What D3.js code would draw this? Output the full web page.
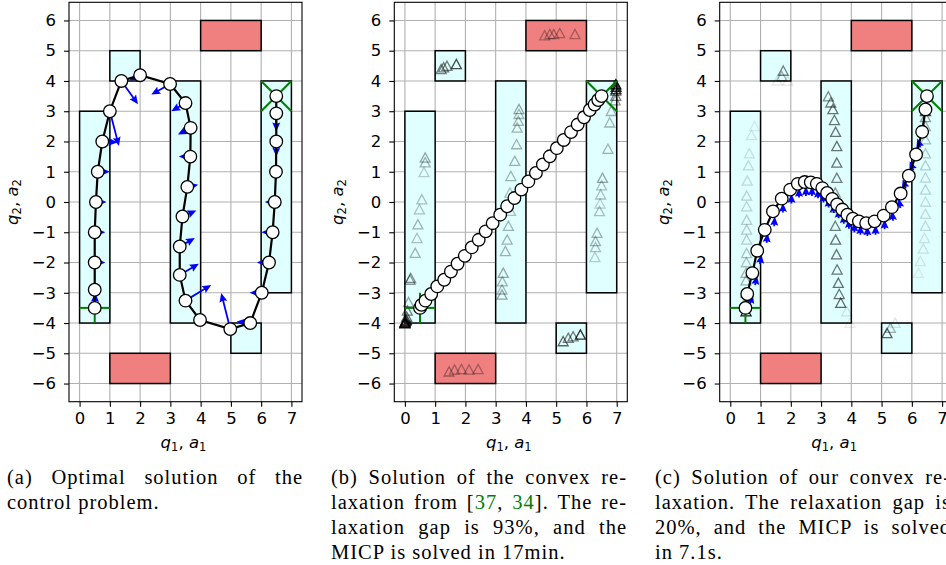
<!DOCTYPE html>
<html>
<head>
<meta charset="utf-8">
<script src="https://cdn.jsdelivr.net/npm/d3@7"></script>
<style>
body { margin: 0; background: #fff; overflow: hidden; }
</style>
</head>
<body>
<svg id="chart" width="946" height="565"></svg>
<script>
// safe regions and obstacles (x0, x1, y0, y1)
const safeBoxes = [[0, 1, -4, 3], [1, 2, 4, 5], [3, 4, -4, 4], [5, 6, -5, -4], [6, 7, -3, 4]];
const obstacles = [[4, 6, 5, 6], [1, 3, -6, -5]];
const startPt = [0.5, -3.5];
const goalPt = [6.5, 3.5];
const xTicks = [0, 1, 2, 3, 4, 5, 6, 7];
const yTicks = [-6, -5, -4, -3, -2, -1, 0, 1, 2, 3, 4, 5, 6];

// (a) optimal solution
const aX = [0.5, 0.5, 0.5, 0.5, 0.54, 0.6, 0.75, 1.0, 1.38, 2.0, 2.99, 3.5, 3.67, 3.66, 3.56, 3.4, 3.31, 3.31, 3.5, 3.98, 4.98, 5.64, 6.02, 6.26, 6.38, 6.45, 6.49, 6.5, 6.5, 6.5];
const aY = [-3.5, -2.9, -2.0, -1.0, 0, 1.0, 2.0, 3.0, 4.0, 4.19, 3.9, 3.27, 2.45, 1.5, 0.5, -0.48, -1.47, -2.41, -3.26, -3.9, -4.2, -4.0, -3.0, -2.0, -1.0, 0, 1.0, 2.0, 2.93, 3.5];
const aU = [0.02, 0, 0.35, 0.35, 0.35, 0.4, 0.5, 0.3, 0.55, -0.35, -0.62, -0.47, -0.42, -0.38, 0.36, 0.46, 0.5, 0.63, 0.85, 0, -0.3, -0.45, -0.4, -0.4, -0.37, -0.33, 0, 0, 0, 0];
const aV = [0.5, 0, 0, 0, 0, 0, -0.03, -1.15, -0.77, -0.17, -0.35, -0.27, -0.22, 0, 0.07, 0.2, 0.28, 0.37, 0.52, 0, 1.19, 0.05, 0, 0, 0, 0, -0.3, -0.5, -0.6, 0];

// (b) convex relaxation from [37, 34]
const bX = [0.5, 0.55, 0.68, 0.87, 1.07, 1.3, 1.52, 1.74, 1.98, 2.21, 2.44, 2.67, 2.9, 3.15, 3.38, 3.62, 3.85, 4.08, 4.33, 4.56, 4.79, 5.02, 5.25, 5.49, 5.71, 5.92, 6.11, 6.27, 6.39, 6.5];
const bY = [-3.5, -3.4, -3.26, -3.04, -2.79, -2.57, -2.3, -2.04, -1.78, -1.5, -1.25, -0.97, -0.7, -0.42, -0.14, 0.13, 0.41, 0.68, 0.96, 1.24, 1.51, 1.78, 2.05, 2.31, 2.56, 2.8, 3.04, 3.22, 3.37, 3.5];
const bTriX = [0.67, 0.67, 0.63, 0.56, 0.48, 0.43, 0.4, 0.34, 0.19, 0.17, 0.12, 0.08, 0.06, 0.05, 0.03, 0.01, 0.0, 0.0,
  6.97, 6.98, 6.98, 6.97, 6.97, 6.95, 6.82, 6.77, 6.71, 6.53, 6.5, 6.47, 6.45, 6.43, 6.35, 6.3, 6.3, 6.28,
  3.77, 3.77, 3.75, 3.71, 3.69, 3.63, 3.5, 3.47, 3.49, 3.42, 3.38, 3.32, 3.25, 3.22, 3.21, 3.21,
  1.2, 1.28, 1.39, 1.7, 4.62, 4.79, 4.92, 5.12, 5.62, 5.23, 5.4, 5.56, 5.8, 1.46, 1.64, 1.87, 2.12, 2.42];
const bTriY = [1.46, 1.3, 0.98, 0.08, -0.25, -0.75, -1.2, -1.69, -2.52, -2.58, -3.32, -3.6, -3.8, -3.9, -3.94, -3.97, -4.0, -4.02,
  3.88, 3.8, 3.72, 3.67, 3.5, 3.35, 3.0, 2.62, 1.75, 0.79, 0.54, 0.24, -0.06, -0.31, -1.03, -1.3, -1.5, -1.83,
  3.06, 2.9, 2.67, 2.45, 1.9, 1.35, 0.85, 0.3, -0.3, -0.8, -1.25, -1.63, -2.35, -2.63, -2.9, -3.07,
  4.38, 4.44, 4.49, 4.55, 5.5, 5.54, 5.54, 5.57, 5.54, -4.61, -4.5, -4.45, -4.39, -5.61, -5.55, -5.53, -5.55, -5.53];
const bTriA = [0.35, 0.3, 0.2, 0.25, 0.25, 0.3, 0.25, 0.3, 0.45, 0.4, 0.35, 0.5, 0.6, 0.7, 0.8, 0.85, 0.9, 0.95,
  0.95, 0.8, 0.7, 0.6, 0.5, 0.4, 0.3, 0.3, 0.3, 0.35, 0.25, 0.25, 0.2, 0.25, 0.3, 0.3, 0.25, 0.2,
  0.35, 0.3, 0.3, 0.3, 0.3, 0.3, 0.3, 0.25, 0.25, 0.3, 0.3, 0.3, 0.35, 0.3, 0.3, 0.35,
  0.5, 0.5, 0.5, 0.7, 0.3, 0.3, 0.3, 0.3, 0.3, 0.6, 0.5, 0.5, 0.8, 0.35, 0.3, 0.3, 0.3, 0.3];

// (c) our convex relaxation
const cX = [0.5, 0.56, 0.73, 0.89, 1.14, 1.41, 1.7, 1.98, 2.23, 2.46, 2.66, 2.86, 3.04, 3.2, 3.37, 3.53, 3.7, 3.87, 4.05, 4.25, 4.49, 4.77, 5.07, 5.34, 5.63, 5.9, 6.14, 6.34, 6.45, 6.5];
const cY = [-3.5, -3.04, -2.35, -1.61, -0.92, -0.31, 0.11, 0.41, 0.6, 0.66, 0.65, 0.6, 0.46, 0.3, 0.1, -0.08, -0.25, -0.42, -0.55, -0.64, -0.7, -0.64, -0.45, -0.17, 0.28, 0.87, 1.57, 2.32, 3.06, 3.5];
const cQX = [0.66, 0.82, 0.98, 1.2, 1.45, 1.74, 2.02, 2.27, 2.5, 2.7, 2.9, 3.08, 3.25, 3.42, 3.58, 3.75, 3.92, 4.1, 4.3, 4.53, 4.8, 5.1, 5.38, 5.62, 5.8, 6.05, 6.28];
const cQY = [-3.35, -2.75, -2.05, -1.35, -0.8, -0.35, -0.05, 0.15, 0.2, 0.2, 0.12, -0.02, -0.18, -0.36, -0.54, -0.72, -0.88, -1.0, -1.08, -1.12, -1.08, -0.9, -0.62, -0.2, 0.45, 1.05, 1.8];
const cQU = [0.08, 0.06, 0.05, 0.03, 0.02, 0, 0, 0, 0, 0, 0, 0, 0, 0, 0, 0, 0, 0, 0, 0, 0, 0, -0.03, -0.06, -0.1, -0.12, -0.1];
const cQV = [0.3, 0.32, 0.32, 0.32, 0.32, 0.32, 0.32, 0.32, 0.32, 0.32, 0.32, 0.32, 0.32, 0.32, 0.32, 0.32, 0.32, 0.32, 0.32, 0.32, 0.32, 0.32, 0.32, 0.32, 0.3, 0.3, 0.3];
const cTriX = [3.24, 3.32, 3.39, 3.44, 3.48, 3.52, 3.52, 3.52, 3.47, 3.47, 3.47, 3.48, 3.51, 3.53, 3.57, 3.6, 3.65, 3.85, 3.96,
  0.52, 0.52, 0.52, 0.52, 0.52, 0.53, 0.54, 0.54, 0.54, 0.54, 0.54, 0.54, 0.56, 0.6, 0.63, 0.7, 0.8,
  6.45, 6.45, 6.45, 6.45, 6.45, 6.45, 6.45, 6.45, 6.45, 6.45, 6.45, 6.42, 6.38, 6.28, 6.22,
  1.75, 1.7, 1.55, 1.9, 5.18, 5.29, 5.45];
const cTriY = [3.48, 3.28, 3.06, 2.7, 2.31, 1.84, 1.29, 0.79, 0.3, -0.2, -0.8, -1.25, -1.74, -2.24, -2.68, -3.05, -3.34, -3.62, -4.0,
  -3.62, -3.29, -3.0, -2.6, -2.35, -2.0, -1.7, -1.25, -0.92, -0.6, -0.15, 0.2, 0.7, 1.2, 1.6, 2.2, 2.5,
  3.0, 2.8, 2.5, 2.06, 1.6, 1.2, 0.8, 0.4, 0.0, -0.4, -0.8, -1.2, -1.55, -1.96, -2.35,
  4.33, 4.15, 4.0, 4.0, -4.34, -4.17, -4.0];
const cTriA = [0.45, 0.5, 0.55, 0.55, 0.55, 0.55, 0.55, 0.5, 0.4, 0.35, 0.5, 0.55, 0.55, 0.55, 0.55, 0.55, 0.6, 0.12, 0.08,
  0.9, 0.35, 0.4, 0.3, 0.3, 0.25, 0.25, 0.2, 0.2, 0.2, 0.18, 0.18, 0.15, 0.15, 0.12, 0.1, 0.08,
  0.7, 0.4, 0.3, 0.25, 0.22, 0.2, 0.18, 0.18, 0.15, 0.15, 0.15, 0.12, 0.12, 0.1, 0.08,
  0.5, 0.3, 0.1, 0.1, 0.6, 0.3, 0.12];

const captions = [
  [["(a) Optimal solution of the"], ["control problem."]],
  [["(b) Solution of the convex re-"], ["laxation from ", {t: "[", c: "#000"}, {t: "37", c: "#008000"}, ", ", {t: "34", c: "#008000"}, "]. The re-"],
   ["laxation gap is 93%, and the"], ["MICP is solved in 17min."]],
  [["(c) Solution of our convex re-"], ["laxation. The relaxation gap is"], ["20%, and the MICP is solved"], ["in 7.1s."]]
];

const svg = d3.select("#chart");
const W = 233, H = 399.4;
const panelLeft = [69, 394.3, 719.7];
const panelTop = 2.3;
const x = d3.scaleLinear().domain([-0.35, 7.35]).range([0, W]);
const y = d3.scaleLinear().domain([-6.6, 6.6]).range([H, 0]);
const tickFont = "DejaVu Sans, sans-serif";

function arrowPts(x0, y0, x1, y1) {
  const dx = x1 - x0, dy = y1 - y0, L = Math.hypot(dx, dy);
  if (L < 0.5) return null;
  const ux = dx / L, uy = dy / L, nx = -uy, ny = ux;
  let hl = 9, hw = 4, sw = 0.9;
  if (L < hl) { const s = L / hl; hl = L; hw *= Math.max(s, 0.85); sw *= s; }
  const bx = x1 - ux * hl, by = y1 - uy * hl;
  const ax = x1 - ux * hl * 0.88, ay = y1 - uy * hl * 0.88;
  return [[x0 + nx * sw, y0 + ny * sw], [ax + nx * sw, ay + ny * sw], [bx + nx * hw, by + ny * hw], [x1, y1],
    [bx - nx * hw, by - ny * hw], [ax - nx * sw, ay - ny * sw], [x0 - nx * sw, y0 - ny * sw]];
}

function triPath(px, py) {
  const s = 5;
  return `M${px},${py - s}L${px + s},${py + s * 0.85}L${px - s},${py + s * 0.85}Z`;
}

function drawPanel(i, pts, arrows, tris) {
  const g = svg.append("g").attr("transform", `translate(${panelLeft[i]},${panelTop})`);

  // grid
  g.append("g").selectAll("line").data(xTicks).join("line")
    .attr("x1", d => x(d)).attr("x2", d => x(d)).attr("y1", 0).attr("y2", H)
    .attr("stroke", "#b0b0b0").attr("stroke-width", 1.1);
  g.append("g").selectAll("line").data(yTicks).join("line")
    .attr("y1", d => y(d)).attr("y2", d => y(d)).attr("x1", 0).attr("x2", W)
    .attr("stroke", "#b0b0b0").attr("stroke-width", 1.1);

  // regions
  g.append("g").selectAll("rect").data(safeBoxes).join("rect")
    .attr("x", d => x(d[0])).attr("y", d => y(d[3]))
    .attr("width", d => x(d[1]) - x(d[0])).attr("height", d => y(d[2]) - y(d[3]))
    .attr("fill", "#e0ffff").attr("stroke", "#000").attr("stroke-width", 1.5);
  g.append("g").selectAll("rect").data(obstacles).join("rect")
    .attr("x", d => x(d[0])).attr("y", d => y(d[3]))
    .attr("width", d => x(d[1]) - x(d[0])).attr("height", d => y(d[2]) - y(d[3]))
    .attr("fill", "#f08080").attr("stroke", "#000").attr("stroke-width", 1.5);

  // triangles
  if (tris) {
    g.append("g").selectAll("path").data(tris).join("path")
      .attr("d", d => triPath(x(d[0]), y(d[1])))
      .attr("fill", "none").attr("stroke", "#000").attr("stroke-width", 1.3)
      .attr("stroke-opacity", d => d[2]);
  }

  // start and goal
  const gg = g.append("g").attr("stroke", "#008000").attr("stroke-width", 2);
  gg.append("line").attr("x1", x(startPt[0] - 0.5)).attr("x2", x(startPt[0] + 0.5)).attr("y1", y(startPt[1])).attr("y2", y(startPt[1]));
  gg.append("line").attr("x1", x(startPt[0])).attr("x2", x(startPt[0])).attr("y1", y(startPt[1] - 0.5)).attr("y2", y(startPt[1] + 0.5));
  gg.append("line").attr("x1", x(goalPt[0] - 0.5)).attr("x2", x(goalPt[0] + 0.5)).attr("y1", y(goalPt[1] - 0.5)).attr("y2", y(goalPt[1] + 0.5));
  gg.append("line").attr("x1", x(goalPt[0] - 0.5)).attr("x2", x(goalPt[0] + 0.5)).attr("y1", y(goalPt[1] + 0.5)).attr("y2", y(goalPt[1] - 0.5));

  // acceleration arrows
  if (arrows) {
    g.append("g").selectAll("polygon")
      .data(arrows.map(d => arrowPts(x(d[0]), y(d[1]), x(d[0] + d[2]), y(d[1] + d[3]))).filter(d => d))
      .join("polygon")
      .attr("points", d => d.map(p => p.join(",")).join(" "))
      .attr("fill", "#0000ff");
  }

  // trajectory
  g.append("path").datum(pts)
    .attr("d", d3.line().x(d => x(d[0])).y(d => y(d[1])))
    .attr("fill", "none").attr("stroke", "#000").attr("stroke-width", 2.2);
  g.append("g").selectAll("circle").data(pts).join("circle")
    .attr("cx", d => x(d[0])).attr("cy", d => y(d[1])).attr("r", 6.3)
    .attr("fill", "#fff").attr("stroke", "#000").attr("stroke-width", 1.3);

  // frame
  g.append("rect").attr("width", W).attr("height", H)
    .attr("fill", "none").attr("stroke", "#000").attr("stroke-width", 1.1);

  // axes
  const xa = g.append("g").attr("transform", `translate(0,${H})`)
    .call(d3.axisBottom(x).tickValues(xTicks).tickSize(5).tickPadding(6).tickFormat(d3.format("d")));
  const ya = g.append("g")
    .call(d3.axisLeft(y).tickValues(yTicks).tickSize(5).tickPadding(8).tickFormat(d => d < 0 ? "\u2212" + Math.abs(d) : d));
  [xa, ya].forEach(a => {
    a.select(".domain").remove();
    a.selectAll("line").attr("stroke", "#000").attr("stroke-width", 1.1);
    a.selectAll("text").attr("font-family", tickFont).attr("font-size", 16.5).attr("fill", "#000");
  });

  // axis labels
  const xl = g.append("text").attr("x", W / 2 - 2).attr("y", 446)
    .attr("text-anchor", "middle").attr("font-family", tickFont).attr("font-size", 16.5);
  axisLabel(xl, "1");
  const yl = g.append("text").attr("transform", `translate(${-51},${H / 2}) rotate(-90)`)
    .attr("text-anchor", "middle").attr("font-family", tickFont).attr("font-size", 16.5);
  axisLabel(yl, "2");
}

function axisLabel(t, k) {
  t.append("tspan").attr("font-style", "italic").text("q");
  t.append("tspan").attr("font-size", 11.5).attr("dy", 3).text(k);
  t.append("tspan").attr("dy", -3).text(", ");
  t.append("tspan").attr("font-style", "italic").text("a");
  t.append("tspan").attr("font-size", 11.5).attr("dy", 3).text(k);
}

const zip2 = (X, Y) => X.map((v, i) => [v, Y[i]]);
drawPanel(0, zip2(aX, aY), aX.map((v, i) => [v, aY[i], aU[i], aV[i]]), null);
drawPanel(1, zip2(bX, bY), null, bTriX.map((v, i) => [v, bTriY[i], bTriA[i]]));
drawPanel(2, zip2(cX, cY), cQX.map((v, i) => [v, cQY[i], cQU[i], cQV[i]]), cTriX.map((v, i) => [v, cTriY[i], cTriA[i]]));

// captions (justified like the paper)
const capLeft = [7, 331, 655];
const capWidth = 296;
captions.forEach((lines, ci) => {
  lines.forEach((parts, li) => {
    const t = svg.append("text").attr("x", capLeft[ci]).attr("y", 484 + li * 25)
      .attr("font-family", "Liberation Serif, serif").attr("font-size", 20.5)
      .attr("letter-spacing", 1).attr("fill", "#000");
    parts.forEach(p => {
      if (typeof p === "string") t.append("tspan").text(p);
      else t.append("tspan").attr("fill", p.c).text(p.t);
    });
    if (li < lines.length - 1) {
      const full = parts.map(p => typeof p === "string" ? p : p.t).join("");
      const spaces = (full.match(/ /g) || []).length;
      const w = t.node().getComputedTextLength();
      if (spaces > 0) t.attr("word-spacing", Math.max(0, (capWidth - w) / spaces));
    }
  });
});
</script>
</body>
</html>
